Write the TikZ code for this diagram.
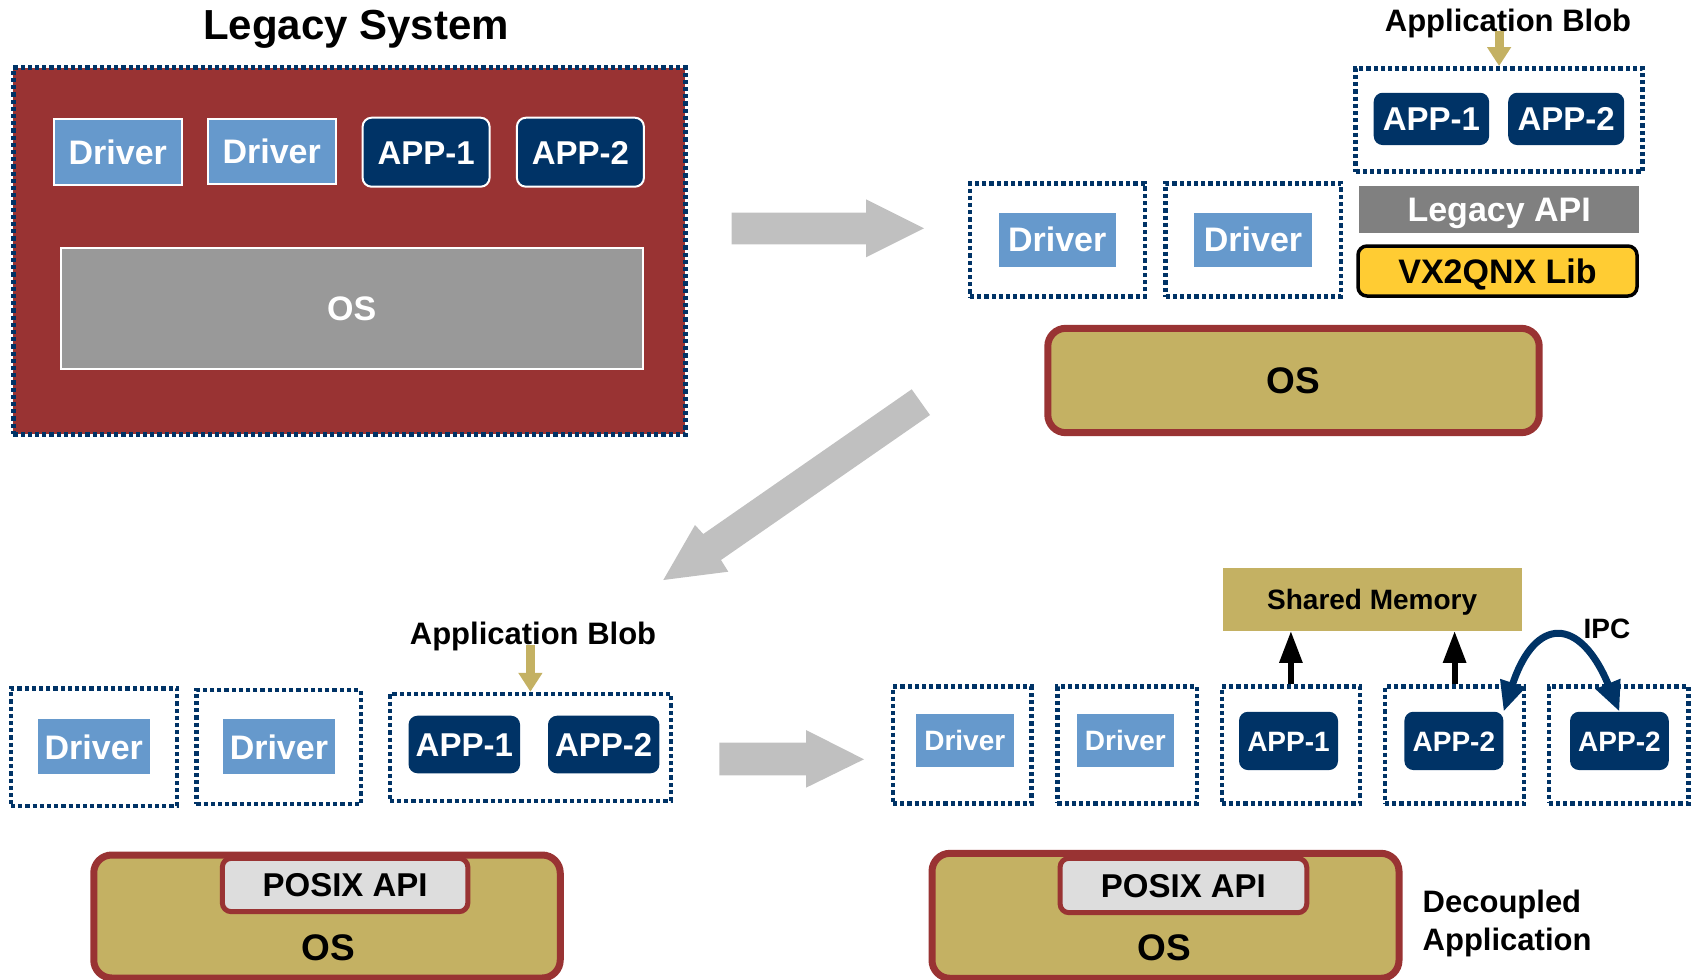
\documentclass[tikz,border=0pt]{standalone}
\usepackage{fontspec}
\setmainfont{Liberation Sans}
\usetikzlibrary{arrows.meta}
\definecolor{navy}{HTML}{003366}
\definecolor{legred}{HTML}{993333}
\definecolor{drvblue}{HTML}{6699CC}
\definecolor{khaki}{HTML}{C4B163}
\definecolor{osgray}{HTML}{999999}
\definecolor{apigray}{HTML}{808080}
\definecolor{posixgray}{HTML}{DDDDDD}
\definecolor{vxyellow}{HTML}{FFCC33}
\definecolor{arrowgray}{HTML}{C0C0C0}
\begin{document}
\begin{tikzpicture}[x=1pt,y=-1pt,
  sz/.style 2 args={minimum width=#1pt, minimum height=#2pt},
  f28/.style={font=\fontsize{28}{34}\selectfont\bfseries, text height=20.2pt, text depth=0pt},
  f31/.style={font=\fontsize{31}{38}\selectfont\bfseries, text height=22.3pt, text depth=0pt},
  f33/.style={font=\fontsize{33}{40}\selectfont\bfseries, text height=23.8pt, text depth=0pt},
  f34/.style={font=\fontsize{34}{40}\selectfont\bfseries, text height=24.5pt, text depth=0pt},
  f37/.style={font=\fontsize{37}{44}\selectfont\bfseries, text height=26.6pt, text depth=0pt},
  f42/.style={font=\fontsize{42}{50}\selectfont\bfseries, text height=30.2pt, text depth=0pt},
  legbox/.style={fill=legred, draw=navy, line width=4.5pt, dash pattern=on 4.2pt off 3pt, inner sep=0pt},
  dotbox/.style={draw=navy, line width=4.5pt, dash pattern=on 4.2pt off 3pt, inner sep=0pt},
  drv/.style={fill=drvblue, text=white, inner sep=0pt},
  ldrv/.style={drv, draw=white, line width=2pt},
  app/.style={fill=navy, text=white, rounded corners=9pt, inner sep=0pt},
  lapp/.style={app, draw=white, line width=2pt},
  los/.style={fill=osgray, draw=white, line width=2pt, text=white, inner sep=0pt},
  osbox/.style={fill=khaki, draw=legred, line width=7pt, rounded corners=18pt, inner sep=0pt},
  posix/.style={fill=posixgray, draw=legred, line width=5pt, rounded corners=9pt, inner sep=0pt},
  api/.style={fill=apigray, text=white, inner sep=0pt},
  vx/.style={fill=vxyellow, draw=black, line width=3.5pt, rounded corners=9pt, inner sep=0pt},
  shm/.style={fill=khaki, inner sep=0pt},
  lbl/.style={inner sep=0pt},
  blk/.style={draw=black, line width=6pt, -{Triangle[length=32pt,width=22pt]}},
  ipc/.style={draw=navy, line width=7pt, {Triangle[length=30pt,width=25pt]}-{Triangle[length=30pt,width=25pt]}},
  kh/.style={draw=khaki, line width=9pt, -{Triangle[length=19pt,width=23pt]}},
  garrow/.style={fill=arrowgray}
]
\useasboundingbox (0,0) rectangle (1698,980);

% ---------- Legacy system ----------
\node[f42, lbl, anchor=base] (ltitle) at (356,39) {Legacy System};
\node[legbox, sz={672}{366.6}] (lsys) at (349.4,251) {};
\node[ldrv, f34, sz={128.4}{66}] (ld1) at (117.8,152) {Driver};
\node[ldrv, f34, sz={128}{65}] (ld2) at (271.7,151.5) {Driver};
\node[lapp, f33, sz={127}{69}] (la1) at (426.1,152.2) {APP-1};
\node[lapp, f33, sz={127}{69}] (la2) at (580.4,152.2) {APP-2};
\node[los, f34, sz={582}{121}] (los) at (351.8,308.2) {OS};

% ---------- Top right ----------
\node[f31, lbl, anchor=base] (ttitle) at (1508,31) {Application Blob};
\node[dotbox, sz={287}{103.4}] (tblob) at (1499.1,120) {};
\node[app, f33, sz={115.4}{52.3}] (ta1) at (1431.4,118.9) {APP-1};
\node[app, f33, sz={116}{52.3}] (ta2) at (1566.2,118.9) {APP-2};
\draw[kh] (ttitle.south -| tblob.north) -- (tblob.north);
\node[dotbox, sz={174.7}{113.4}] (tdb1) at (1057.4,240) {};
\node[drv, f34, sz={117}{54}] (td1) at (1057.2,239.7) {Driver};
\node[dotbox, sz={175.6}{113.4}] (tdb2) at (1253.4,240) {};
\node[drv, f34, sz={117.3}{54}] (td2) at (1253,239.7) {Driver};
\node[api, f34, sz={280.5}{47.3}] (tapi) at (1499.2,209.7) {Legacy API};
\node[vx, f34, sz={279}{50}] (tvx) at (1497.5,271) {VX2QNX Lib};
\node[osbox, f37, sz={491.4}{104.4}] (tos) at (1293.5,380.5) {OS};

% ---------- Bottom left ----------
\node[f31, lbl, anchor=base] (btitle) at (533,644.3) {Application Blob};
\node[dotbox, sz={281.3}{106.7}] (bblob) at (530.4,747.4) {};
\node[app, f33, sz={111.5}{57.6}] (ba1) at (464.3,744.5) {APP-1};
\node[app, f33, sz={111.4}{57.6}] (ba2) at (603.7,744.5) {APP-2};
\draw[kh] (btitle.south -| bblob.north) -- (bblob.north);
\node[dotbox, sz={166}{117.7}] (bdb1) at (94,747.2) {};
\node[drv, f34, sz={111.6}{55}] (bd1) at (93.8,746.8) {Driver};
\node[dotbox, sz={164.3}{114}] (bdb2) at (278.6,747) {};
\node[drv, f34, sz={111.8}{55}] (bd2) at (278.9,746.8) {Driver};
\node[osbox, sz={466.5}{123}] (bos) at (327,916.5) {};
\node[posix, f33, sz={245.6}{53.4}] (bposix) at (345.1,885) {POSIX API};
\node[f37, lbl] (bost) at (328,946.7) {OS};

% ---------- Bottom right ----------
\node[shm, f28, sz={299}{62.4}] (shm) at (1372.2,599.5) {Shared Memory};
\node[dotbox, sz={138.3}{116.6}] (rb1) at (962.2,745) {};
\node[dotbox, sz={139.8}{116.6}] (rb2) at (1127.3,745) {};
\node[dotbox, sz={138.3}{116.6}] (rb3) at (1290.9,745) {};
\node[dotbox, sz={139.2}{116.6}] (rb4) at (1454.6,745) {};
\node[dotbox, sz={139.8}{116.6}] (rb5) at (1618.7,745) {};
\node[drv, f28, sz={98.5}{53.3}] (rd1) at (964.8,740.7) {Driver};
\node[drv, f28, sz={96.7}{53.3}] (rd2) at (1125.4,740.7) {Driver};
\node[app, f28, sz={99}{58.3}] (ra1) at (1288.5,740.9) {APP-1};
\node[app, f28, sz={99}{58.3}] (ra2) at (1453.9,740.9) {APP-2};
\node[app, f28, sz={98.7}{58.3}] (ra2b) at (1619.4,740.9) {APP-2};
\draw[blk] (rb3.north) -- (rb3.north |- shm.south);
\draw[blk] (rb4.north) -- (rb4.north |- shm.south);
\draw[ipc] (ra2.north east) .. controls (1535,616) and (1580,616) .. (ra2b.north);
\node[f28, lbl, anchor=base] (ipcl) at (1607,638.3) {IPC};
\node[osbox, sz={467}{125}] (ros) at (1165.5,915.8) {};
\node[posix, f33, sz={246.7}{54.4}] (rposix) at (1183.4,885.5) {POSIX API};
\node[f37, lbl] (rost) at (1164.3,946.7) {OS};
\node[lbl, anchor=north west, align=left, font=\fontsize{31}{38.3}\selectfont\bfseries] (dec) at (1422.5,889.5) {Decoupled\\Application};

% ---------- Big gray arrows ----------
\fill[garrow] (731.7,212.7) -- (866,212.7) -- (866,199.3) -- (924,228.3) -- (866,257.3) -- (866,244.3) -- (731.7,244.3) -- cycle;
\fill[garrow] (911.7,389.3) -- (930,415) -- (721,560) -- (728.3,571.7) -- (663.3,580) -- (695,525) -- (703.3,534) -- cycle;
\fill[garrow] (719.3,742.7) -- (806,742.7) -- (806,730) -- (864,759.3) -- (806,787.7) -- (806,775.3) -- (719.3,775.3) -- cycle;
\end{tikzpicture}
\end{document}
